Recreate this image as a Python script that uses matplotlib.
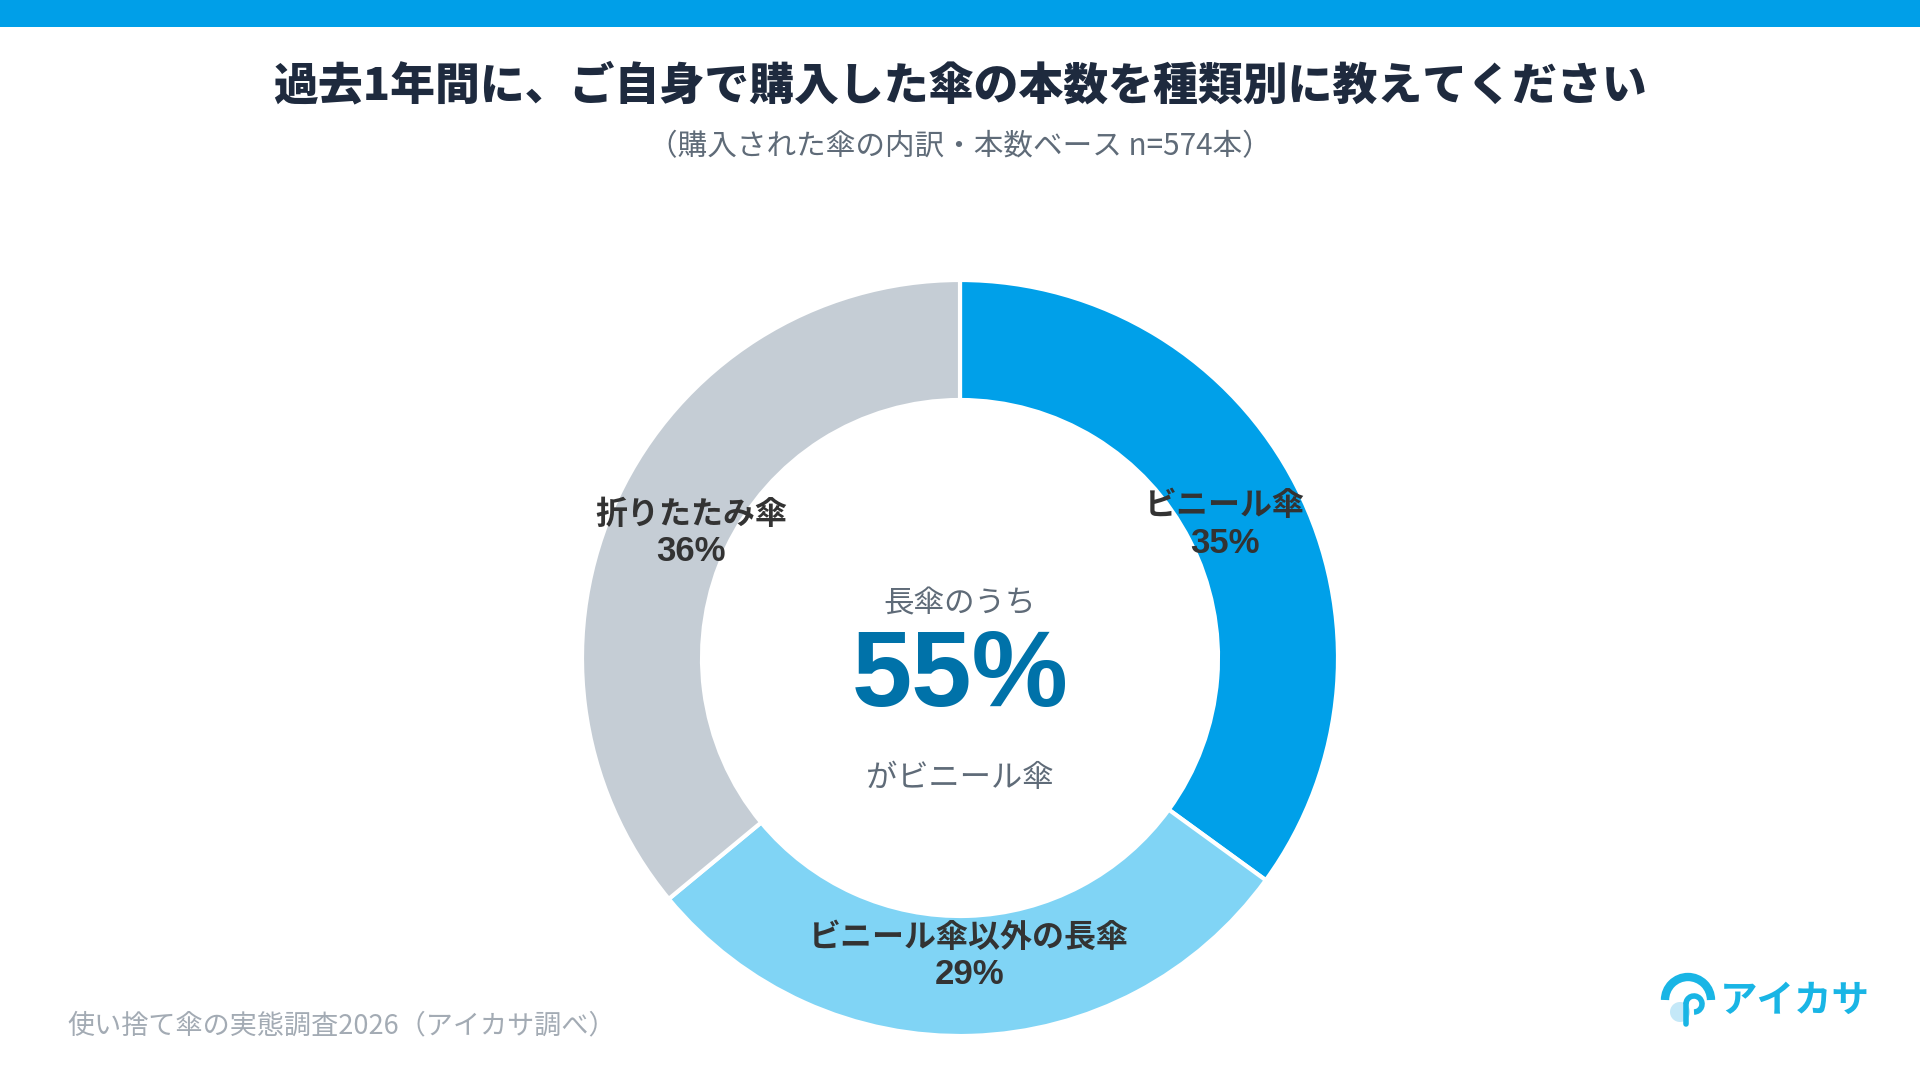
import matplotlib
matplotlib.use("Agg")
import matplotlib.pyplot as plt
from matplotlib.patches import Rectangle, Arc, Circle
import numpy as np

plt.rcParams['font.family'] = ['Noto Sans CJK JP', 'DejaVu Sans']

# data
categories = ['ビニール傘', 'ビニール傘以外の長傘', '折りたたみ傘']
shares = [35, 29, 36]
colors = ['#00A0E9', '#80D4F5', '#C5CDD5']

title = '過去1年間に、ご自身で購入した傘の本数を種類別に教えてください'
subtitle = '（購入された傘の内訳・本数ベース n=574本）'
center_top = '長傘のうち'
center_value = '55%'
center_bottom = 'がビニール傘'
footer = '使い捨て傘の実態調査2026（アイカサ調べ）'

W, H = 1920, 1080
fig = plt.figure(figsize=(19.2, 10.8), dpi=100, facecolor='white')
ax = fig.add_axes([0, 0, 1, 1])
ax.set_xlim(0, W)
ax.set_ylim(0, H)
ax.axis('off')

# top bar
ax.add_patch(Rectangle((0, H - 27), W, 27, facecolor='#009FE8', edgecolor='none'))

ax.text(W / 2, H - 86, title, fontsize=32.3, fontweight=900, color='#1E2A3E',
        ha='center', va='center')
ax.text(W / 2, H - 147, subtitle, fontsize=21.3, color='#5F6B78',
        ha='center', va='center')

# donut
cx, cy, R = 960, H - 658, 378
wedges, _ = ax.pie(shares, colors=colors, startangle=90, counterclock=False,
                   center=(cx, cy), radius=R,
                   wedgeprops=dict(width=R - 258, edgecolor='white', linewidth=3))
ax.set_xlim(0, W)
ax.set_ylim(0, H)
ax.set_aspect('equal')

label_r = 297
for w, name, val in zip(wedges, categories, shares):
    ang = np.deg2rad((w.theta1 + w.theta2) / 2)
    x = cx + label_r * np.cos(ang)
    y = cy + label_r * np.sin(ang)
    ax.text(x, y + 17, name, fontsize=23, fontweight='bold', color='#333333',
            ha='center', va='center')
    ax.text(x, y - 20, f'{val}%', fontsize=25, fontweight='bold', color='#333333',
            ha='center', va='center', family=['Liberation Sans', 'DejaVu Sans'])

# centre text
ax.text(cx, H - 604, center_top, fontsize=22, color='#5F6B78', ha='center', va='center')
ax.text(cx, H - 678, center_value, fontsize=78, fontweight='bold', color='#0072A9',
        ha='center', va='center', family=['Liberation Sans', 'DejaVu Sans'])
ax.text(cx, H - 778, center_bottom, fontsize=22.5, color='#5F6B78', ha='center', va='center')

# footer
ax.text(67, H - 1026, footer, fontsize=19.5, color='#A3ABB4', ha='left', va='center')

# logo
logo_c = '#19B5E5'
ax.add_patch(Arc((1688, H - 1000), 46, 46, theta1=0, theta2=180, color=logo_c, lw=6))
ax.add_patch(Circle((1680, H - 1012), 10, facecolor='#C4E8F8', edgecolor='none'))
ax.add_patch(Arc((1694, H - 1004), 16, 16, theta1=-90, theta2=180, color=logo_c, lw=4))
ax.plot([1686, 1686], [H - 1004, H - 1024], color=logo_c, lw=4, solid_capstyle='round')
ax.text(1720, H - 1000, 'アイカサ', fontsize=27, fontweight='bold', color=logo_c,
        ha='left', va='center')

fig.savefig('out.png', dpi=100, facecolor='white')
